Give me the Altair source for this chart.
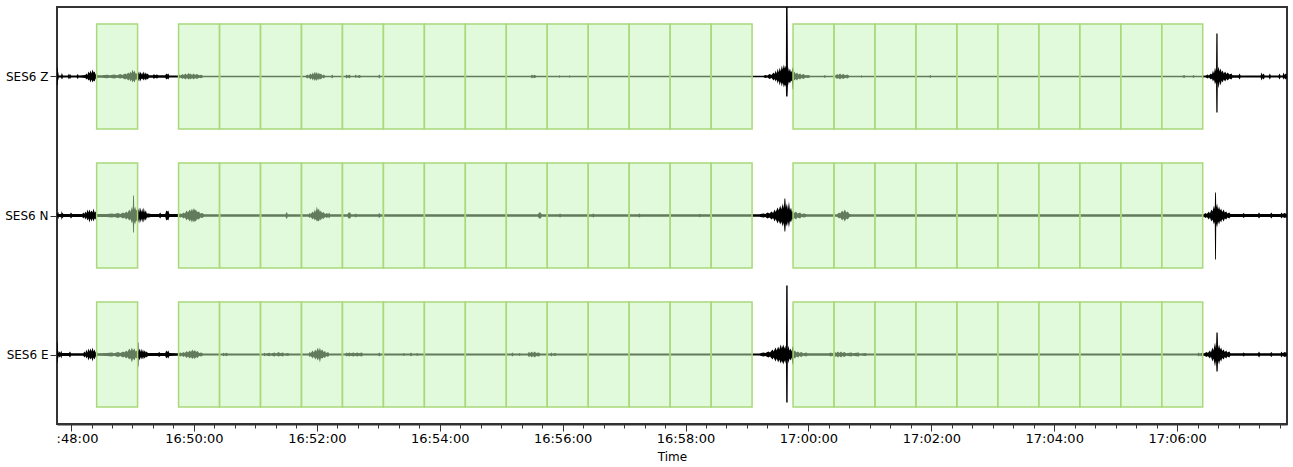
import altair as alt
import pandas as pd

# Component traces, top to bottom
CHANNELS = ["SES6 Z", "SES6 N", "SES6 E"]

# Envelope of each trace: (seconds after 16:48:00, upper swing, lower swing) in counts
TRACE_Z = [
    (-13.7, 9, 9), (-13.1, 9, 9), (-12.8, 2, 2), (-12.5, 5, 4), (-12, 1, 1), (-10, 1, 1),
    (-9.5, 4, 3), (-9, 1, 1), (-8.5, 3, 3), (-8, 1, 1), (-3, 1, 1), (-2, 3, 3),
    (-1.5, 1, 1), (-1, 2.5, 2.5), (0, 1, 1), (5.5, 1, 1), (6.5, 2.5, 2.5), (7.5, 1, 1),
    (14, 1.5, 1.5), (15, 3, 3), (16, 1.5, 2), (17, 5, 4), (18, 3, 3), (19, 6, 6),
    (20, 3, 3), (21, 7, 6), (22, 4, 4), (23, 5, 5), (24, 2, 2), (25, 3, 3),
    (26, 1.2, 1.2),
    (30, 1.2, 1.2), (35, 1.8, 1.8), (38, 1.2, 1.2), (42, 2, 2), (45, 1.2, 1.2),
    (48, 2.5, 2), (50, 1.5, 1.5), (53, 3, 3), (54, 2, 2), (56, 4, 4), (57, 2.5, 2.5),
    (58, 5, 5), (59, 3, 3), (60, 7, 6), (61, 4, 4), (62, 6, 6), (63, 3, 3),
    (64.5, 3, 3), (64.7, 10, 10), (65.3, 10, 10), (65.5, 3, 3),
    (66.5, 5, 5), (67, 2, 2), (68, 5, 5), (68.5, 2, 2), (69.5, 4, 3), (70, 2, 2),
    (71, 5, 4), (72, 2, 2), (73, 4, 4), (74, 2, 2), (75, 3, 3), (76, 1.2, 1.2),
    (80, 1.2, 1.2), (81, 2.5, 2.5), (82, 1.2, 1.2), (84, 2, 2), (85, 1.2, 1.2),
    (92, 1.2, 1.2), (93, 3, 3), (94, 2, 2), (95, 3, 3), (96, 1, 1), (104.5, 1, 1),
    (106, 2, 2), (107, 1, 1), (109, 2.5, 2.5), (110, 1.5, 1.5), (112, 3, 3),
    (113, 1.5, 1.5), (115, 3.5, 3), (116, 2, 2), (117, 3, 3), (118, 1.5, 1.5),
    (120, 3, 3), (121, 1.5, 1.5), (123, 2.5, 2.5), (125, 1.2, 1.2), (127, 1.8, 1.8),
    (129, 0.8, 0.8),
    (229, 0.8, 0.8), (231, 2, 2), (232, 1, 1), (234, 3, 3), (235, 1.5, 1.5), (236, 4, 4),
    (237, 2, 2), (238, 5, 4.5), (239, 2.5, 2.5), (240, 4.5, 4.5), (241, 2, 2),
    (242, 4, 3.5), (243, 2, 2), (244, 3, 3), (245.5, 1, 1), (247, 2, 2), (248, 0.8, 0.8),
    (254, 0.8, 0.8), (255, 2, 2), (256, 0.8, 0.8), (268, 0.8, 0.8), (269, 2, 2),
    (270, 1, 1), (272, 1.8, 1.8), (273, 0.8, 0.8), (277, 0.8, 0.8), (278, 2, 1.5),
    (279, 0.8, 0.8), (282, 1.5, 1.5), (283, 0.8, 0.8), (300, 0.8, 0.8), (301, 2, 2),
    (302, 0.8, 0.8),
    (449, 0.8, 0.8), (450, 2, 2), (451, 1, 1), (453, 1.8, 1.8), (454, 0.8, 0.8),
    (476.5, 0.8, 0.8), (477, 1.5, 1.5), (477.5, 0.8, 0.8), (486.5, 0.8, 0.8),
    (487, 1.5, 1.5), (487.5, 0.8, 0.8),
    (676, 0.8, 0.8), (678, 1.5, 1.5), (680, 1, 1), (682, 2.5, 2.5), (684, 1.5, 1.5),
    (686, 4, 4), (687, 2.5, 2.5), (688, 6, 5), (689, 3, 3), (690, 8, 7), (691, 4, 4),
    (692, 9, 9), (693, 5, 5), (694, 11, 10), (695, 7, 6), (696, 12, 11), (697, 8, 8),
    (698, 11, 10), (698.2, 75, 20), (699.6, 75, 20), (700, 10, 9),
    (701, 5, 5), (702, 8, 7), (703, 4, 4), (704, 6, 5), (704.6, 9, 13), (705.3, 9, 13),
    (705.5, 3, 3),
    (706.5, 5, 4), (707.5, 2.5, 2.5), (709, 4, 4), (710, 2, 2), (712, 3, 3),
    (713, 1.5, 1.5), (715, 2.5, 2.5), (717, 1.2, 1.2), (720, 1.5, 1.5), (722, 0.8, 0.8),
    (735, 0.8, 0.8), (736, 1.5, 1.5), (737, 0.8, 0.8), (746, 0.8, 0.8), (748, 2.5, 2.5),
    (749, 1.5, 1.5), (751, 3, 3), (752, 1.5, 1.5), (754, 2.5, 2.5), (756, 1.2, 1.2),
    (758, 2, 2), (760, 0.8, 0.8), (771.5, 0.8, 0.8), (772, 1.5, 1.5), (772.5, 0.8, 0.8),
    (838, 0.8, 0.8), (839, 1.5, 1.5), (840, 0.8, 0.8),
    (1085, 0.8, 0.8), (1087, 1.5, 1.5), (1088, 0.8, 0.8), (1095, 0.8, 0.8),
    (1096, 1.5, 1.5), (1097, 0.8, 0.8), (1104, 0.8, 0.8), (1105, 2, 2), (1106, 0.8, 0.8),
    (1108, 1, 1), (1110, 2, 2), (1111, 1, 1), (1113, 3, 3), (1114, 2, 2), (1115, 6, 5),
    (1116, 3, 3), (1117, 9, 8), (1118, 5, 5), (1118.3, 43, 36), (1119.5, 43, 36),
    (1119.7, 6, 6),
    (1120.5, 10, 12), (1121.5, 5, 5), (1122.5, 8, 9), (1123.5, 4, 4), (1124.5, 6, 6),
    (1125.5, 3, 3), (1127, 5, 5), (1128, 2.5, 2.5), (1129.5, 4, 4), (1131, 2, 2),
    (1133, 3, 3), (1134, 1.2, 1.2), (1140, 1.2, 1.2), (1141, 3, 3), (1142, 1, 1),
    (1161.5, 1, 1), (1162.5, 4, 4), (1163.5, 1.5, 1.5), (1164.5, 3, 3), (1165.5, 1, 1),
    (1169.5, 1, 1), (1170.5, 3, 3), (1171.5, 1, 1), (1179, 1, 1), (1180, 3, 3),
    (1181, 1, 1), (1183, 1, 1), (1184, 4, 3), (1185, 1.5, 1.5), (1186, 3, 3),
    (1187.3, 1.5, 1.5),
]

TRACE_N = [
    (-13.7, 3, 3), (-13, 1.5, 1.5), (-12.5, 4, 4), (-12, 1.5, 1.5), (-10, 1.5, 1.5),
    (-9.5, 5, 5), (-9, 1.5, 1.5), (-8.3, 3, 3), (-7.5, 1.5, 1.5), (-1, 1.5, 1.5),
    (0, 3, 3), (1, 1.5, 1.5), (11, 1.5, 1.5), (12, 3, 3), (13, 1.5, 1.5), (14, 4, 4),
    (15, 2, 2), (16, 6, 5), (17, 3, 3), (18, 6, 7), (19, 3, 3), (20, 5, 6), (21, 3, 3),
    (22, 7, 6), (23, 3, 3), (24, 4, 4), (25, 1.5, 1.5),
    (35, 1.5, 1.5), (40, 2, 2), (42, 1.5, 1.5), (46, 2.5, 2.5), (48, 1.5, 1.5),
    (51, 3, 3), (52, 2, 2), (54, 4, 4), (55, 2.5, 2.5), (57, 6, 5), (58, 3.5, 3.5),
    (59.5, 9, 8), (60.3, 5, 5), (60.6, 20, 17), (61.4, 20, 17), (61.7, 6, 6),
    (62.5, 9, 9), (63.5, 5, 5), (64.5, 6, 6), (64.7, 13, 13), (65.3, 13, 13),
    (65.5, 4, 4),
    (66.5, 8, 8), (67.2, 3, 3), (68, 8, 7), (68.7, 3, 3), (69.5, 7, 7), (70.3, 3, 3),
    (71, 8, 7), (72, 3, 3), (73, 5, 5), (74, 2, 2), (76, 2, 2), (78, 1.5, 1.5),
    (86, 1.5, 1.5), (87, 3, 3), (88, 1.5, 1.5), (92, 1.5, 1.5), (93, 5, 5), (94, 4, 4),
    (95, 5, 5), (96, 1.5, 1.5), (104.5, 1.5, 1.5),
    (107, 2, 2), (108, 1.5, 1.5), (110, 3, 3), (111, 2, 2), (113, 5, 5), (114, 3, 3),
    (116, 6, 6), (117, 4, 4), (118, 7, 7), (119, 4.5, 4.5), (120, 7.5, 7), (121, 5, 5),
    (122, 6, 6), (123, 3.5, 3.5), (125, 4, 4), (126, 2, 2), (128, 2.5, 2.5),
    (130, 1.2, 1.2),
    (209.5, 1.2, 1.2), (210, 3, 3), (211, 3, 3), (211.5, 1.2, 1.2), (232, 1.2, 1.2),
    (233, 2.5, 2.5), (234, 1.5, 1.5), (236, 4, 4), (237, 2.5, 2.5), (238, 6, 5),
    (239, 3.5, 3.5), (240, 9, 6), (241, 5, 5), (242, 7, 6), (243, 3.5, 3.5), (244, 5, 5),
    (245, 2.5, 2.5), (246.5, 3.5, 3.5), (248, 1.5, 1.5), (250, 2.5, 2.5),
    (251, 1.2, 1.2), (252, 3, 3), (253, 1.2, 1.2), (270, 1.2, 1.2), (271, 3, 3),
    (272.5, 3, 3), (273.5, 1.2, 1.2), (277, 1.2, 1.2), (278, 2, 2), (279, 1.2, 1.2),
    (300, 1.2, 1.2), (301, 2.5, 2.5), (302, 1.2, 1.2),
    (456, 1.2, 1.2), (457, 3, 3), (458.5, 3, 3), (459.5, 1.2, 1.2), (476.5, 1.2, 1.2),
    (477.5, 2, 2), (478.5, 1.2, 1.2), (509, 1.2, 1.2), (510, 2, 2), (511, 1.2, 1.2),
    (554, 1.2, 1.2), (555, 2, 2), (556, 1.2, 1.2), (613, 1.2, 1.2), (614, 1.8, 1.8),
    (615, 1.2, 1.2),
    (672, 1.2, 1.2), (676, 2, 2), (678, 1.5, 1.5), (680, 3, 3), (682, 2, 2), (684, 4, 4),
    (685.5, 2.5, 2.5), (687, 6, 6), (688, 3.5, 3.5), (690, 8, 8), (691, 5, 5),
    (692.5, 10, 9), (693.5, 6, 6), (695, 12, 11), (696, 7, 7), (696.6, 17, 16),
    (697.4, 17, 16), (698, 8, 8),
    (699, 12, 11), (700, 6, 6), (701, 14, 12), (702, 5, 5), (703, 8, 7), (704, 3, 3),
    (705, 5, 5), (706, 2.5, 2.5), (708, 4, 4), (709, 2, 2), (712, 3, 3), (713, 1.5, 1.5),
    (716, 2, 2), (718, 1.2, 1.2),
    (748, 1.2, 1.2), (750, 3, 3), (751, 2, 2), (753, 5, 5), (754, 3, 3), (755.5, 6, 6),
    (757, 3, 3), (758.5, 4, 4), (760, 1.5, 1.5), (762, 1.2, 1.2),
    (1106, 1.2, 1.2), (1108, 2.5, 2.5), (1109, 1.5, 1.5), (1111, 4, 4), (1112, 2, 2),
    (1113.5, 6, 6), (1114.5, 4, 4), (1116, 10, 9), (1116.8, 6, 6), (1117.1, 23, 44),
    (1117.9, 23, 44), (1118.2, 8, 8), (1119, 12, 12), (1120, 6, 6), (1121, 9, 9),
    (1122, 5, 5), (1123, 7, 7),
    (1124, 3.5, 3.5), (1125.5, 6, 6), (1126.5, 3, 3), (1128, 4, 4), (1129, 2, 2),
    (1131, 3, 3), (1132, 1.5, 1.5), (1144, 1.5, 1.5), (1145, 2.5, 2.5),
    (1146, 1.5, 1.5), (1159, 1.5, 1.5), (1160, 3, 3), (1161, 1.5, 1.5),
    (1171, 1.5, 1.5), (1172, 3, 3), (1173, 1.5, 1.5), (1181, 1.5, 1.5), (1182, 3, 3),
    (1183, 1.5, 1.5), (1185, 2.5, 2.5), (1187.3, 1.5, 1.5),
]

TRACE_E = [
    (-13.7, 12, 8), (-13.1, 12, 8), (-12.8, 2, 2), (-12.5, 4, 4), (-12, 1.5, 1.5),
    (-11, 3, 3), (-10.3, 1.5, 1.5), (-9.5, 4, 4), (-8.8, 1.5, 1.5), (-2, 1.5, 1.5),
    (-1, 3, 3), (0, 1.2, 1.2), (12, 1.2, 1.2), (13, 3, 3), (14, 1.5, 1.5), (15, 5, 4),
    (16, 2, 2), (17, 6, 6), (18, 3, 3), (19, 6, 5), (20, 3, 3), (21, 7, 7), (22, 3, 3),
    (23, 5, 5), (24, 2, 2), (25, 3, 3), (26, 1.2, 1.2),
    (35, 1.5, 1.5), (40, 2, 2), (42, 1.2, 1.2), (46, 2.5, 2.5), (48, 1.5, 1.5),
    (51, 3, 3), (52, 2, 2), (54, 4, 4), (55, 2.5, 2.5), (57, 6, 5), (58, 3.5, 3.5),
    (59.5, 7, 8), (60.5, 4, 4), (62, 6, 6), (63, 3, 3), (64.5, 4, 4), (65.2, 12, 12),
    (65.8, 12, 12), (66, 3, 3),
    (67, 6, 6), (67.7, 2.5, 2.5), (68.5, 6, 5), (69.3, 2.5, 2.5), (70.3, 5, 5),
    (71, 2.5, 2.5), (72, 4, 4), (73, 2, 2), (74, 3, 3), (75, 1.5, 1.5), (85, 1.5, 1.5),
    (86, 2.5, 2.5), (87, 1.5, 1.5), (92, 1.5, 1.5), (93, 4, 4), (94, 2.5, 2.5),
    (95, 4, 4), (96, 1.5, 1.5), (104.5, 1.2, 1.2),
    (107, 2, 2), (108, 1.2, 1.2), (110, 2.5, 2.5), (111, 1.5, 1.5), (113, 3.5, 3.5),
    (114, 2, 2), (116, 4, 4), (117, 2.5, 2.5), (118.5, 5, 4.5), (119.5, 3, 3),
    (121, 4.5, 4.5), (122, 2.5, 2.5), (123.5, 3.5, 3.5), (125, 1.5, 1.5), (127, 2, 2),
    (129, 1, 1),
    (148, 1, 1), (149, 1.8, 1.8), (150, 1, 1), (152, 1.8, 1.8), (153, 1, 1), (188, 1, 1),
    (189, 1.8, 1.8), (190, 1, 1), (194, 1.8, 1.8), (195, 1, 1), (199, 2, 2), (200, 1, 1),
    (203, 2.5, 2), (204, 1.2, 1.2), (207, 2, 2), (208, 1, 1), (212, 1.5, 1.5),
    (213, 1, 1),
    (232, 1, 1), (233, 2.5, 2.5), (234, 1.5, 1.5), (236, 4, 4), (237, 2, 2),
    (238.5, 5, 5), (239.5, 3, 3), (241, 7, 6), (242, 3.5, 3.5), (243, 7, 8),
    (244, 3.5, 3.5), (245.5, 5, 4), (246.5, 2.5, 2.5), (248, 3.5, 3.5), (249, 1.5, 1.5),
    (251, 2.5, 2.5), (252, 1, 1),
    (268, 1, 1), (269, 2, 2), (270, 1.2, 1.2), (272, 2, 2), (273, 1.2, 1.2), (276, 2, 2),
    (277, 1.2, 1.2), (280, 2, 2), (281, 1.2, 1.2), (284, 2, 2), (285, 1, 1),
    (300, 1, 1), (301, 2, 2), (302, 1, 1), (324, 1, 1), (325, 1.5, 1.5), (326, 1, 1),
    (331, 1, 1), (332, 2, 2), (333, 1, 1), (337, 1, 1), (338, 1.5, 1.5), (339, 1, 1),
    (430, 1, 1), (431, 2, 2), (432, 1, 1), (437, 1, 1), (438, 1.5, 1.5), (439, 1, 1),
    (446, 1, 1), (447, 2.5, 2.5), (448.5, 1.5, 1.5), (450, 3, 3), (451, 1.5, 1.5),
    (453, 3, 3), (454, 1.5, 1.5), (457, 2, 2), (458, 1, 1), (468, 1, 1), (469, 2, 2),
    (470, 1, 1), (473, 1.5, 1.5), (474, 1, 1),
    (672, 1, 1), (676, 2, 2), (678, 1.5, 1.5), (681, 3, 3), (682.5, 2, 2), (685, 5, 5),
    (686, 3, 3), (688, 7, 7), (689, 4, 4), (690.5, 8, 8), (691.5, 5, 5), (693, 10, 9),
    (694, 6, 6), (695.5, 10, 10), (696.5, 6, 6), (697.5, 9, 9), (698.1, 5, 5),
    (698.3, 69, 48), (699.7, 69, 48), (699.9, 5, 5), (700.5, 9, 9), (701.5, 4, 4),
    (702.5, 6, 6), (703.5, 3, 3), (704.6, 8, 10), (705.3, 8, 10), (705.5, 3, 3),
    (707, 4, 4), (708, 2, 2), (710, 3, 3),
    (711, 1.5, 1.5), (713, 2.5, 2.5), (715, 1.2, 1.2), (718, 2, 2), (719, 1.2, 1.2),
    (740, 1.2, 1.2), (742, 2, 2), (743, 1.2, 1.2), (746, 2.5, 2.5), (747, 1.5, 1.5),
    (749, 3, 3), (750, 1.5, 1.5), (752, 3, 3), (753, 1.5, 1.5), (755, 2.5, 2.5),
    (757, 1.2, 1.2), (762, 2, 2), (763, 1.2, 1.2), (769, 2, 2), (770, 1, 1),
    (776, 1.5, 1.5), (777, 1, 1),
    (1100, 1, 1), (1101, 2, 2), (1102, 1, 1), (1105, 2, 2), (1106, 1, 1),
    (1109, 2.5, 2.5), (1110, 1.5, 1.5), (1112, 4, 4), (1113, 2, 2), (1114.5, 7, 7),
    (1115.5, 4, 4), (1117, 12, 12), (1118, 6, 6), (1118.4, 22, 17), (1119.6, 22, 17),
    (1120, 6, 6),
    (1121, 10, 10), (1122, 5, 5), (1123, 7, 7), (1124, 3.5, 3.5), (1125.5, 5, 5),
    (1126.5, 2.5, 2.5), (1128, 4, 4), (1129, 2, 2), (1131, 3, 3), (1132, 1.2, 1.2),
    (1144, 1.2, 1.2), (1145, 2, 2), (1146, 1.2, 1.2), (1159, 1.2, 1.2), (1160, 3, 3),
    (1161, 1.2, 1.2), (1171, 1.2, 1.2), (1172, 2.5, 2.5), (1173, 1.2, 1.2),
    (1181, 1.2, 1.2), (1182, 3, 3), (1183, 1.2, 1.2), (1185, 2.5, 2.5),
    (1187.3, 1.5, 1.5),
]

TRACES = [TRACE_Z, TRACE_N, TRACE_E]

# Selected H/V time windows (start times), each 40 s long
WINDOW_STARTS = [
    "16:48:25",
    "16:49:45", "16:50:25", "16:51:05", "16:51:45", "16:52:25", "16:53:05", "16:53:45",
    "16:54:25", "16:55:05", "16:55:45", "16:56:25", "16:57:05", "16:57:45", "16:58:25",
    "16:59:45", "17:00:25", "17:01:05", "17:01:45", "17:02:25", "17:03:05", "17:03:45",
    "17:04:25", "17:05:05", "17:05:45",
]
WINDOW_LENGTH_S = 40

COUNTS_PER_ROW = 139.0   # trace gain: counts per row spacing
WINDOW_HALF = 0.378      # half height of a window box, in rows
VIEW_START = ("16:47:46", 300)
VIEW_END = ("17:07:47", 300)

FONT = "DejaVu Sans"


def epoch_ms(clock, extra_ms=0):
    return int(pd.Timestamp(f"2000-01-01 {clock}").value // 1_000_000) + extra_ms


REF_MS = epoch_ms("16:48:00")
START_MS = epoch_ms(*VIEW_START)
END_MS = epoch_ms(*VIEW_END)

trace_rows = []
for i, (name, trace) in enumerate(zip(CHANNELS, TRACES)):
    base = len(CHANNELS) - 1 - i
    for t, up, dn in trace:
        trace_rows.append({
            "channel": name,
            "time": int(REF_MS + t * 1000.0),
            "hi": base + up / COUNTS_PER_ROW,
            "lo": base - dn / COUNTS_PER_ROW,
        })
traces_df = pd.DataFrame(trace_rows)

box_rows = []
for i, name in enumerate(CHANNELS):
    base = len(CHANNELS) - 1 - i
    for s in WINDOW_STARTS:
        st = epoch_ms(s)
        box_rows.append({
            "channel": name,
            "time": st,
            "time_end": st + WINDOW_LENGTH_S * 1000,
            "hi": base + WINDOW_HALF,
            "lo": base - WINDOW_HALF,
        })
boxes_df = pd.DataFrame(box_rows)


def dt(ms):
    ts = pd.Timestamp(ms, unit="ms")
    return alt.DateTime(year=ts.year, month=ts.month, date=ts.day, hours=ts.hour,
                        minutes=ts.minute, seconds=ts.second,
                        milliseconds=ts.microsecond // 1000, utc=True)


# Ticks every 20 s, labels every 2 min
tick_values = [dt(REF_MS + k * 20000) for k in range(0, 60)]
major = "utcseconds(datum.value) == 0 && utcminutes(datum.value) % 2 == 0"
near_left = f"time(datum.value) < {START_MS + 30000}"
x_label_expr = (
    f"({major}) ? (({near_left}) ? slice(utcFormat(datum.value, '%H:%M:%S'), 2) "
    f": utcFormat(datum.value, '%H:%M:%S')) : ''"
)

x_axis = alt.Axis(
    values=tick_values,
    labelExpr=x_label_expr,
    tickSize={"condition": {"test": major, "value": 7}, "value": 4},
    labelOffset={"condition": {"test": near_left, "value": 6}, "value": 0},
    labelOverlap=False,
    labelFlush=False,
    labelBound=False,
    labelPadding=1,
    labelFontSize=13,
    title="Time",
    titlePadding=6,
    grid=False,
)
x_scale = alt.Scale(type="utc", domain=[dt(START_MS), dt(END_MS)])

names_bottom_up = list(reversed(CHANNELS))
y_label_expr = "[" + ", ".join(f"'{n}'" for n in names_bottom_up) + "][datum.value]"
y_axis = alt.Axis(
    values=list(range(len(CHANNELS))),
    labelExpr=y_label_expr,
    tickSize=7,
    labelPadding=2,
    labelFontSize=12,
    domain=False,
    grid=False,
    title=None,
)
y_scale = alt.Scale(domain=[-0.5, len(CHANNELS) - 0.5], nice=False, zero=False)

traces = alt.Chart(traces_df).mark_area(
    color="#000000", clip=True, interpolate="linear"
).encode(
    x=alt.X("time:T", scale=x_scale, axis=x_axis),
    y=alt.Y("hi:Q", scale=y_scale, axis=y_axis, stack=None),
    y2="lo:Q",
    detail="channel:N",
)

windows = alt.Chart(boxes_df).mark_rect(
    fill="#c5f5b9", fillOpacity=0.5, stroke="#a9d97a", strokeWidth=1.5, clip=True
).encode(
    x=alt.X("time:T", scale=x_scale, axis=x_axis),
    x2="time_end:T",
    y=alt.Y("hi:Q", scale=y_scale, axis=y_axis),
    y2="lo:Q",
)

chart = alt.layer(traces, windows).properties(
    width=1230,
    height=417,
    autosize=alt.AutoSizeParams(type="none"),
    padding={"left": 57, "top": 7, "right": 6, "bottom": 43},
    background="#ffffff",
).configure_view(
    stroke="#333333", strokeWidth=2
).configure_axis(
    labelFont=FONT, labelColor="#000000",
    titleFont=FONT, titleFontSize=12, titleFontWeight="normal", titleColor="#000000",
    domainColor="#333333", domainWidth=2, tickColor="#333333", tickWidth=1,
)

chart.save("out.html", embed_options={"renderer": "svg", "actions": False})
